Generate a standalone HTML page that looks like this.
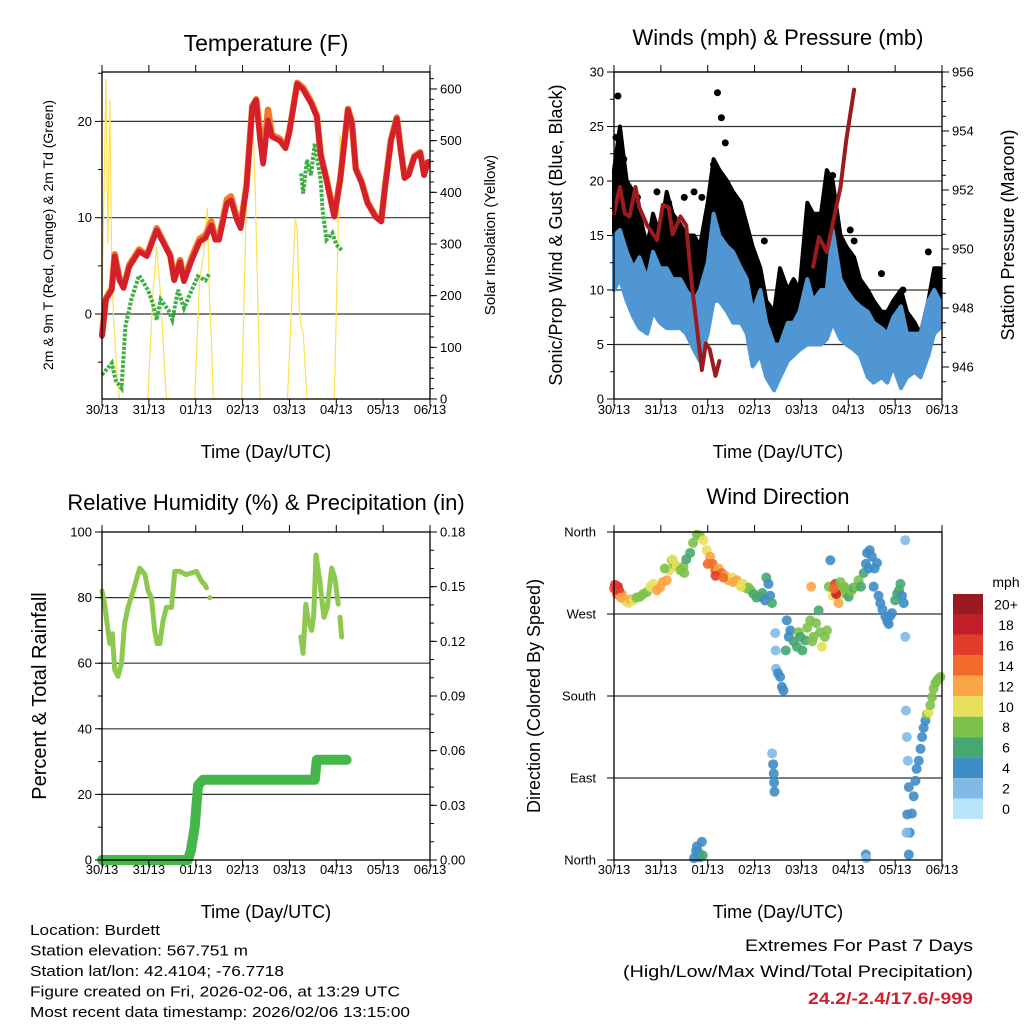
<!DOCTYPE html>
<html><head><meta charset="utf-8"><style>
html,body{margin:0;padding:0;background:#fff}
svg{display:block;font-family:"Liberation Sans",sans-serif}
</style></head><body>
<svg id="chart" width="1024" height="1024" viewBox="0 0 1024 1024" xmlns="http://www.w3.org/2000/svg"></svg>
<script>
// ---------- DATA (hours since 30/13 00 UTC) ----------
const dayLabels = ["30/13","31/13","01/13","02/13","03/13","04/13","05/13","06/13"];
// Temperature
const tempHours = [0,2,5,6.5,9,11,14,19,23,28,35,37,40,42,46,50,53,56,58,60,64,66,69,71,74,77,79,81,82.5,85,87,91,94,96,100,103,107,110,112,115,119,122,126,128,130,133,136,140,143,145,148,151,153,155,157,160,163,165,167];
const tempRed = [-2.3,1.5,2.5,6,3.5,2.7,4.9,6.5,6,8.7,6,3.5,5.4,3.4,5.6,7.5,7.9,9.2,7.7,7.7,11.5,11.8,9.8,8.9,13.2,21.5,22.2,18,15.6,20.1,18.4,18,17.2,18.9,23.9,23.3,21.9,20.5,16.5,13.9,10.1,13.9,21.2,19.8,15,13.6,11.5,10.1,9.6,13.2,18,20.3,17,14.1,14.4,16.3,16.7,14.4,15.8];
const tempOrange = [-2.3,1.6,2.7,6.2,3.6,2.8,5.1,6.7,6.1,8.9,6.1,3.6,5.6,3.5,5.9,7.8,8.2,9.6,7.9,8,11.9,12.2,10.1,9.1,13.4,21.6,22.3,18.8,16,21.2,18.6,18.2,17.3,19,24,23.5,22.1,20.6,16.6,14,10.2,14,21.3,19.9,15.1,13.7,11.6,10.2,9.7,13.3,18.1,20.4,17.1,14.2,14.5,16.4,16.8,14.5,15.9];
const dewHours = [0,3,5,7,10,12,15,19,23.5,26,28,30,34,36,39,42,46,49,53,55,102,103,105,107,109,112,113,115,118,120,123];
const dewPoint = [-6.3,-5.6,-5.1,-6.9,-7.7,-1.3,1.5,4,2.5,1.1,-0.6,1.5,0.4,-0.6,2.5,0.6,2.5,3.9,3.5,4.2,14.6,12.5,16,14.4,17.7,13.9,10.8,7.7,8.4,7.2,6.6];
const dewBreakAfter = [55];
const solarHours = [0,1,2,3,4,5,6,8,9,23.5,26,28,29,30,32,33,47.5,50,52,54,55,56,57,71.5,74,77,78.5,81,95,99,100,101,102,103,105,119,121,122,122.5];
const solarValues = [200,400,620,300,580,250,150,30,0,0,200,295,250,200,60,0,0,230,280,370,200,120,0,0,385,570,400,0,0,350,330,180,140,130,0,0,330,510,480];
// Winds
const windHours = [0,3,6.5,10,13,17,20,23.5,27,30,34,37,41,44,48,51,54,58,61,65,68,71,75,78,82,85,89,92,95,99,102,106,109,112,116,119,123,126,130,133,137,140,143,147,150,154,157,161,164,167];
const windHigh = [15,15.5,13.5,12,13,11,13.5,12,12,11,11,10,9,10,12.5,17,15,14,13.5,12,11,8,10,7,5,5,7,7,8,11,9,10,10,15.5,11,10,9,8.5,8,7,6.5,6,7.5,8.5,6,6,6,9,10,9];
const windLow = [10,11,9,7.5,6.5,6,8,7,6.5,6.5,6.5,6,4.5,3.5,6,9,9,8,7,7,6,3,4,2,0.8,2,3.5,4,4.5,5,5,5,5.5,7,5.5,5,4.5,4,2,1.5,2,1.5,3,1,2,2.5,2,4,6,6.5];
const gustHigh = [21,25,20,19,17,14,17,15,19,17,16,15,15,14,18,22,21,20,19,18,16,14,12,9,8,12,10,11,10,18,17,17,21,20,15,14,13,11,10,9,8,8,9,10,8,7,6,9,12,12];
const gustLow = [13,14,13,10,10,8,10,9,10,10,9,10,9,10,10,12,11,11,10,9,9,6,5,4,4,6,5,6,6,8,9,10,10,11,8,7,6,6,4,4,4,4,4,4,4,3,3,4,8,8];
const gustOutHours = [2,1,5,12,22,28,36,41,45,51,53,55,57,77,99,107,111,112,121,123,137,148,161];
const gustOutValues = [27.8,24,22,18.5,19,18,18.5,19,18.5,21.5,28.1,25.8,23.5,14.5,16,16.5,18.5,20.5,15.5,14.5,11.5,10,13.5];
const presHours = [0,3,5.6,8,11,13,17,22,25,28,30,34,37,40,42,45,47,49,52,54,null,102,105,109,116,119,123];
const presValues = [951.2,952.1,951.2,951.1,952.1,951.4,950.8,950.3,951.5,951.4,950.5,951.1,950.8,948.7,947.6,945.9,946.8,946.6,945.7,946.2,null,949.4,950.4,949.9,952.1,953.7,955.4];
// Relative humidity & precipitation
const rhHours = [0,1.4,2.6,4,5.3,6.5,8.2,10,11.6,13.3,16,19.3,22,23.6,25.3,27,28.2,29.6,31.3,33,35.6,37.3,40,43,48.4,51,52.6,53.5,null,101.9,103,104.4,105.6,107.4,108.5,109.6,111.6,112.5,113.7,115.4,117.6,119.3,121,null,121.9,122.7];
const rhValues = [82,78,72,66,69,58,56,60,72,77,82,89,87,82,80,70,66,66,73,77,77,88,88,87,88,85,84,83,null,68,63,78,73,70,75,93,85,80,74,77,89,86,78,null,74,68];
const precipHours = [0,44,45.5,47.5,49.2,51.8,109,110,125.3];
const precipValues = [0,0,0.005,0.018,0.041,0.044,0.044,0.055,0.055];
// Wind direction (degrees) and speed (mph)
const dirHours = [0,1,2,3.1,4,4.8,6,7.4,8.5,9.9,
 11.5,13.3,15,16.8,18.5,20.2,22,23.6,25,27,
 28.5,29.6,31,32.1,34,35.6,37,39,40.5,42.4,
 44,45.8,47.5,49.2,50.5,51.8,53.5,55.2,57,58.6,
 60.5,62.9,64.5,66.3,68,68.9,70,71.5,73,74.9,
 76,77.4,78,79.1,80,80.9,82.6,82.8,83,84,
 85.1,86,86.8,88,88.5,89.5,90.3,92,93.7,94.5,
 95.4,96.5,97.9,99,100.5,101.5,102.2,103.5,104.8,105.5,
 106.5,108,109.1,110,110.8,112,113.3,114,115,116.5,
 117.6,119,120.2,121.5,122.7,124,125.3,126.5,127.9,129,
 129.6,131,132.1,133.5,134.7,135.5,136.4,137.5,139,140,
 140.7,141.5,142.4,144,145,146,146.7,147.5,148.4,149.2,
 149.2,151,151.5,152.6,153.5,154.4,155,156.1,157,157.8,
 158.6,159.5,160.3,161.2,162,162.9,163.7,164.6,165.5,166.3,
 167.2,41,42,42.5,43.5,44,45,45.5,81,81.5,
 81.8,82,82.2,129,129.2,149.5,150,150.5,151,150.2,
 149.8,0.5,1.5,2.5,3.5,26,30,36,48,52,
 56,61,65,101,113.8,112.5,116,118,130.5,133];
const dirDeg = [298,296,300,294,292,287,284,282,286,285,
 288,289,292,294,300,303,296,299,305,307,
 318,329,324,322,318,322,330,337,348,357,
 356,351,340,333,325,318,320,315,312,307,
 310,307,302,303,298,299,296,292,288,289,
 293,285,310,303,290,282,249,230,210,205,
 201,190,186,230,263,245,252,240,234,250,
 245,230,241,255,263,240,245,260,274,250,
 234,245,252,300,329,290,303,295,282,292,
 299,292,289,295,299,300,307,300,315,325,
 337,340,333,320,326,290,282,275,267,262,
 259,268,271,285,292,296,303,290,282,351,
 245,6,30,51,70,87,100,109,122,135,
 145,153,160,162,170,179,188,194,197,199,
 201,2,10,15,8,3,20,5,117,105,
 95,85,75,6,2,164,135,109,80,50,
 30,302,292,296,288,320,330,315,325,312,
 310,305,300,300,292,298,305,300,320,300];
const dirSpeed = [14,16,18,14,12,12,10,10,12,10,
 8,8,8,8,10,10,12,12,12,12,
 10,8,8,10,8,8,7,7,8,8,
 8,10,10,12,14,14,12,14,12,12,
 10,12,10,10,8,8,8,6,6,6,
 6,4,6,5,4,6,2,2,2,4,
 4,4,4,6,5,4,4,6,6,8,
 6,6,7,8,9,8,8,8,6,8,
 10,8,8,8,4,10,16,12,12,10,
 8,8,6,8,6,8,8,6,6,4,
 5,4,4,4,4,4,4,4,4,4,
 4,4,4,6,7,6,6,4,4,2,
 2,4,4,4,4,4,4,4,4,4,
 4,4,8,10,8,8,8,8,8,8,
 8,4,4,4,4,4,4,6,2,4,
 4,4,4,4,2,2,2,2,4,4,
 2,16,14,16,12,8,10,8,14,16,
 14,12,10,12,18,14,8,8,4,4];
// Colour scale
const speedLabels = ["20+","18","16","14","12","10","8","6","4","2","0"];
const speedColors = ["#9b1a1f","#c31e28","#e23a2b","#f26a2b","#faa545","#e8e05a","#7dc14a","#47a770","#3f8cc6","#7fbbe6","#b9e3f8"];

// ---------- HELPERS ----------
const NS = "http://www.w3.org/2000/svg";
const svg = document.getElementById("chart");
function mk(tag, attrs, parent){
  const el = document.createElementNS(NS, tag);
  for (const k in attrs) el.setAttribute(k, attrs[k]);
  (parent||svg).appendChild(el);
  return el;
}
function txt(s, x, y, size, anchor, parent){
  const el = mk("text", {x:x, y:y, "font-size":size, "text-anchor":anchor||"middle", fill:"#000"}, parent);
  el.textContent = s;
  return el;
}
function rtxt(s, x, y, size, parent){
  const el = mk("text", {x:0, y:0, "font-size":size, "text-anchor":"middle", fill:"#000", transform:"translate("+x+","+y+") rotate(-90)"}, parent);
  el.textContent = s;
  return el;
}
function pathFrom(hs, vs, xf, yf){
  let d = "", pen = false;
  for (let i=0;i<hs.length;i++){
    if (hs[i]===null || vs[i]===null){ pen=false; continue; }
    d += (pen?"L":"M") + xf(hs[i]).toFixed(1) + "," + yf(vs[i]).toFixed(1);
    pen = true;
  }
  return d;
}
function makePanel(name, x0, y0, x1, y1){
  const g = mk("g", {});
  
  
  const xs = h => x0 + h*(x1-x0)/168;
  return {g, x0, y0, x1, y1, xs};
}
function timeAxis(P, labelY, titleY){
  const ax = mk("g", {}, P.g);
  
  
  for (let i=0;i<dayLabels.length;i++){
    const x = P.xs(i*24);
    mk("line",{x1:x,y1:P.y1,x2:x,y2:P.y1+7,stroke:"#000","stroke-width":1},ax);
    mk("line",{x1:x,y1:P.y0,x2:x,y2:P.y0-7,stroke:"#000","stroke-width":1},ax);
    const t = txt(dayLabels[i], x, labelY, 13, "middle", ax);
    
    
  }
  const tt = txt("Time (Day/UTC)", (P.x0+P.x1)/2, titleY, 18, "middle", ax);
  
  
}
function yTicks(P, side, vals, minorVals, yf, fmt, name){
  const ax = mk("g", {}, P.g);
  
  
  const xe = side==="left"?P.x0:P.x1, dir = side==="left"?-1:1;
  minorVals.forEach(v=>{ const y=yf(v); mk("line",{x1:xe,y1:y,x2:xe+dir*4,y2:y,stroke:"#000","stroke-width":1},ax); });
  vals.forEach(v=>{
    const y=yf(v);
    mk("line",{x1:xe,y1:y,x2:xe+dir*7,y2:y,stroke:"#000","stroke-width":1},ax);
    const t = txt(fmt(v), xe+dir*10, y+4.5, 13, side==="left"?"end":"start", ax);
    
    
  });
}
function grid(P, vals, yf){
  vals.forEach(v=>{ const y=yf(v); const l=mk("line",{x1:P.x0,y1:y,x2:P.x1,y2:y,stroke:"#333","stroke-width":1.2},P.g);
    
     });
}
function frame(P){
  const r = mk("rect",{x:P.x0,y:P.y0,width:P.x1-P.x0,height:P.y1-P.y0,fill:"none",stroke:"#000","stroke-width":1.3},P.g);
  
  
}
function range(a,b,s){ const r=[]; for(let v=a; v<=b+1e-9; v+=s) r.push(+v.toFixed(4)); return r; }

// ---------- PANEL 1: TEMPERATURE ----------
(function(){
  const P = makePanel("temperature-panel", 102, 72, 430, 399);
  const yT = v => 314 - v*9.63;
  const yS = v => 399 - v*0.5167;
  const t = txt("Temperature (F)", 266, 51, 23, "middle", P.g);
  
  
  grid(P, [0,10,20], yT);
  const sol = mk("path",{d:pathFrom(solarHours, solarValues, P.xs, yS), fill:"none", stroke:"#ffe04f","stroke-width":1.2}, P.g);
  
  
  const dh=[], dv=[];
  for (let i=0;i<dewHours.length;i++){ dh.push(dewHours[i]); dv.push(dewPoint[i]); if (dewBreakAfter.includes(dewHours[i])){dh.push(null);dv.push(null);} }
  const dew = mk("path",{d:pathFrom(dh, dv, P.xs, yT), fill:"none", stroke:"#3fae45","stroke-width":4,"stroke-dasharray":"3 1.5"}, P.g);
  
  
  const or = mk("path",{d:pathFrom(tempHours, tempOrange, P.xs, yT), fill:"none", stroke:"#f07a2a","stroke-width":6.5,"stroke-linejoin":"round"}, P.g);
  
  
  const red = mk("path",{d:pathFrom(tempHours, tempRed, P.xs, yT), fill:"none", stroke:"#d3202a","stroke-width":5.5,"stroke-linejoin":"round","stroke-linecap":"round"}, P.g);
  
  
  frame(P);
  yTicks(P, "left", [0,10,20], [-5,5,15,25], yT, v=>String(v), "temperature-y-axis");
  yTicks(P, "right", range(0,600,100), range(0,620,20), yS, v=>String(v), "solar-y-axis");
  timeAxis(P, 414, 458);
  const l = rtxt("2m & 9m T (Red, Orange) & 2m Td (Green)", 53, 235, 14, P.g);
  
  
  const r = rtxt("Solar Insolation (Yellow)", 495, 235, 15, P.g);
  
  
})();

// ---------- PANEL 2: WINDS & PRESSURE ----------
(function(){
  const P = makePanel("winds-panel", 614, 72, 942, 399);
  const yW = v => 399 - v*10.9;
  const yP = v => 367 - (v-946)*29.5;
  const t = txt("Winds (mph) & Pressure (mb)", 778, 45, 22, "middle", P.g);
  
  
  grid(P, [5,10,15,20,25,30], yW);
  function band(hi, lo, col){
    let d = "";
    for (let i=0;i<windHours.length;i++) d += (i?"L":"M")+P.xs(windHours[i]).toFixed(1)+","+yW(hi[i]).toFixed(1);
    for (let i=windHours.length-1;i>=0;i--) d += "L"+P.xs(windHours[i]).toFixed(1)+","+yW(lo[i]).toFixed(1);
    return mk("path",{d:d+"Z", fill:col, stroke:col, "stroke-width":4, "stroke-linejoin":"round"}, P.g);
  }
  const gb = band(gustHigh, gustLow, "#000");
  
  
  gustOutHours.forEach((h,i)=>{
    const c = mk("circle",{cx:P.xs(h), cy:yW(gustOutValues[i]), r:3.5, fill:"#000"}, P.g);
    
    
  });
  const wb = band(windHigh, windLow, "#4f96d2");
  
  
  const pr = mk("path",{d:pathFrom(presHours, presValues, P.xs, yP), fill:"none", stroke:"#9b1b1f","stroke-width":4,"stroke-linejoin":"round","stroke-linecap":"round"}, P.g);
  
  
  frame(P);
  yTicks(P, "left", range(0,30,5), range(0,30,2.5), yW, v=>String(v), "wind-y-axis");
  yTicks(P, "right", range(946,956,2), range(945.5,956,0.5), yP, v=>String(v), "pressure-y-axis");
  timeAxis(P, 414, 458);
  const l = rtxt("Sonic/Prop Wind & Gust (Blue, Black)", 562, 235, 18, P.g);
  
  
  const r = rtxt("Station Pressure (Maroon)", 1014, 235, 18, P.g);
  
  
})();

// ---------- PANEL 3: RH & PRECIP ----------
(function(){
  const P = makePanel("humidity-panel", 102, 532, 430, 860);
  const yR = v => 860 - v*3.28;
  const yQ = v => 860 - v/0.18*328;
  const t = txt("Relative Humidity (%) & Precipitation (in)", 266, 510, 22, "middle", P.g);
  
  
  grid(P, [20,40,60,80], yR);
  const pq = mk("path",{d:pathFrom(precipHours, precipValues, P.xs, yQ), fill:"none", stroke:"#45b649","stroke-width":10,"stroke-linejoin":"round","stroke-linecap":"round"}, P.g);
  
  
  const rh = mk("path",{d:pathFrom(rhHours, rhValues, P.xs, yR), fill:"none", stroke:"#8dc94f","stroke-width":5,"stroke-linejoin":"round","stroke-linecap":"round"}, P.g);
  
  
  const dot = mk("circle",{cx:P.xs(55.2), cy:yR(80), r:2.5, fill:"#8dc94f"}, P.g);
  
  
  frame(P);
  yTicks(P, "left", range(0,100,20), range(0,100,10), yR, v=>String(v), "humidity-y-axis");
  yTicks(P, "right", range(0,0.18,0.03), range(0,0.18,0.01), yQ, v=>v.toFixed(2), "precip-y-axis");
  timeAxis(P, 874, 918);
  const l = rtxt("Percent & Total Rainfall", 46, 696, 20, P.g);
  
  
})();

// ---------- PANEL 4: WIND DIRECTION ----------
(function(){
  const P = makePanel("wind-direction-panel", 614, 532, 942, 860);
  const yD = v => 860 - v*328/360;
  const t = txt("Wind Direction", 778, 504, 22, "middle", P.g);
  
  
  grid(P, [90,180,270,360], yD);
  const colorFor = s => speedColors[10 - Math.min(10, Math.floor(s/2))];
  const n = Math.min(dirHours.length, dirDeg.length, dirSpeed.length);
  for (let i=0;i<n;i++){
    const c = mk("circle",{cx:P.xs(dirHours[i]), cy:yD(dirDeg[i]), r:5, fill:colorFor(dirSpeed[i]), "fill-opacity":0.9}, P.g);
    
    
  }
  frame(P);
  const dnames = ["North","East","South","West","North"];
  const ax = mk("g",{},P.g);
  
  
  dnames.forEach((nm,i)=>{
    const y = yD(i*90);
    mk("line",{x1:P.x0,y1:y,x2:P.x0-7,y2:y,stroke:"#000"},ax);
    const tl = txt(nm, 596, y+4.5, 13, "end", ax);
    
    
  });
  timeAxis(P, 874, 918);
  const l = rtxt("Direction (Colored By Speed)", 540, 696, 18, P.g);
  
  
  const cb = mk("g",{});
  
  
  const u = txt("mph", 1006, 587, 14, "middle", cb);
  
  
  speedLabels.forEach((lab,i)=>{
    const y0 = 594 + i*20.45;
    const r = mk("rect",{x:953,y:y0,width:30,height:20.45,fill:speedColors[i]},cb);
    
    
    const tl = txt(lab, 1006, y0+15.5, 14, "middle", cb);
    
    
  });
})();

// ---------- FOOTER ----------
(function(){
  const g = mk("g",{});
  
  
  const lines = [["Location: Burdett",130],["Station elevation: 567.751 m",218],["Station lat/lon: 42.4104; -76.7718",254],["Figure created on Fri, 2026-02-06, at 13:29 UTC",370],["Most recent data timestamp: 2026/02/06 13:15:00",380]];
  lines.forEach((l,i)=>{
    const t = mk("text",{x:30,y:935+i*20.5,"font-size":15,textLength:l[1],lengthAdjust:"spacingAndGlyphs",fill:"#000"},g);
    t.textContent = l[0];
    
    
  });
  const e = mk("g",{});
  
  
  const a = mk("text",{x:745,y:951,"font-size":17,textLength:228,lengthAdjust:"spacingAndGlyphs",fill:"#000"},e);
  a.textContent = "Extremes For Past 7 Days";
  
  
  const b = mk("text",{x:623,y:977,"font-size":17,textLength:350,lengthAdjust:"spacingAndGlyphs",fill:"#000"},e);
  b.textContent = "(High/Low/Max Wind/Total Precipitation)";
  
  
  const c = mk("text",{x:808,y:1004,"font-size":17,"font-weight":"bold",textLength:165,lengthAdjust:"spacingAndGlyphs",fill:"#cf2030"},e);
  c.textContent = "24.2/-2.4/17.6/-999";
  
  
})();
</script>
</body></html>
